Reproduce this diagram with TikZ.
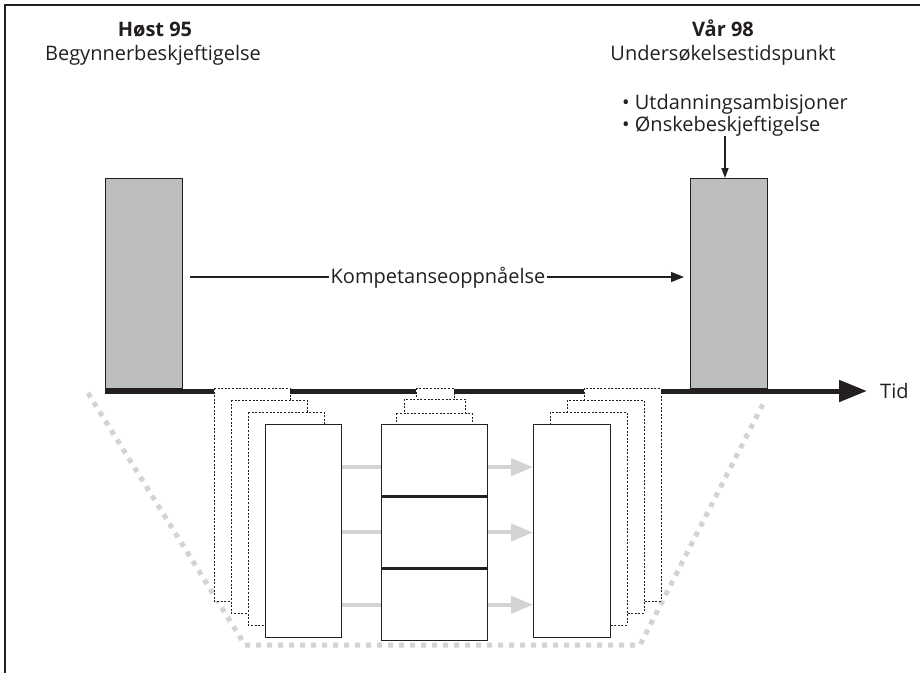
\documentclass[tikz,border=0pt]{standalone}
\usepackage{fontspec}
\setmainfont{Open Sans}
\usepackage{tikz}
\usetikzlibrary{arrows.meta}
\usetikzlibrary{positioning}
\usetikzlibrary{calc}

\definecolor{periodgray}{HTML}{BCBEC0}
\definecolor{flowgray}{HTML}{D1D3D4}
\definecolor{inkgray}{HTML}{231F20}

\begin{document}
\begin{tikzpicture}[x=1pt, y=-1pt,
  txt/.style={font=\fontsize{20}{22}\selectfont, text=inkgray, inner sep=0pt},
  boldtxt/.style={txt, font=\fontsize{20}{22}\selectfont\bfseries},
  period/.style={draw=inkgray, fill=periodgray, line width=1pt, minimum width=77pt, minimum height=210pt, inner sep=0pt, anchor=south west},
  job/.style={draw=inkgray, fill=white, line width=1.3pt, inner sep=0pt, anchor=north west},
  jobshadow/.style={draw=inkgray, fill=white, line width=0.9pt, dash pattern=on 2pt off 1.6pt},
  flow/.style={draw=flowgray, line width=4pt},
  flowarrow/.style={flow, -{Triangle[length=22pt, width=17pt]}},
  funnel/.style={draw=flowgray, line width=5pt, dash pattern=on 5pt off 6pt},
  kline/.style={draw=inkgray, line width=1.4pt}
]
\useasboundingbox (0,0) rectangle (920,673);
\draw[draw=inkgray, line width=2pt] (5,673) -- (5,5) -- (920,5); % ramme

% tekster
\node[boldtxt, anchor=base] (host95) at (155,36) {Høst 95};
\node[txt, anchor=base] (startjob) at (153,60) {Begynnerbeskjeftigelse};
\node[boldtxt, anchor=base] (vaar98) at (723,36) {Vår 98};
\node[txt, anchor=base] (surveytime) at (723,60) {Undersøkelsestidspunkt};
\node[txt, anchor=north west, align=left] (ambitions) at (622,94) {• Utdanningsambisjoner\\• Ønskebeskjeftigelse};

\draw[funnel] (88,393) -- (245,645) -- (640,645) -- (765,400); % trakt

% perioder
\node[period] (start) at (105,389) {};
\node[period] (survey) at (690,389) {};

\node[txt, anchor=west] (tid) at (880,391) {Tid};
\draw[draw=inkgray, line width=5pt, -{Triangle[length=28pt, width=21pt]}] ($(start.south west)+(0,2)$) -- ($(tid.west)+(-13,0)$); % tidsakse

\node[txt, anchor=base] (komp) at (438,283) {Kompetanseoppnåelse};
\draw[kline] ($(start.east |- komp.base)+(7,-6)$) -- ($(komp.base west)+(-1,-6)$);
\draw[kline, -{Triangle[length=13pt, width=10pt]}] ($(komp.base east)+(1,-6)$) -- ($(survey.west |- komp.base)+(-6,-6)$);

\draw[kline, -{Triangle[length=10pt, width=7pt]}] (ambitions.south -| {$(survey.north)+(-4,0)$}) -- ($(survey.north)+(-4,0)$);

% jobber
\foreach \k in {3,2,1}
  \draw[jobshadow] (265-17*\k, 424-12*\k) rectangle ++(76,213);
\node[job, minimum width=76pt, minimum height=213pt] (first) at (265,424) {};

\foreach \l/\r/\t in {416/454/388, 404/465/399, 396/472/413}
  \draw[jobshadow] (\l,\t) rectangle (\r,430);
\node[job, minimum width=106pt, minimum height=71pt] (mid1) at (381,424) {};
\node[job, minimum width=106pt, minimum height=71pt, below=0pt of mid1] (mid2) {};
\node[job, minimum width=106pt, minimum height=71pt, below=0pt of mid2] (mid3) {};

\foreach \k in {3,2,1}
  \draw[jobshadow] (533+17*\k, 424-12*\k) rectangle ++(77,213);
\node[job, minimum width=77pt, minimum height=213pt] (last) at (533,424) {};

\foreach \m/\dy in {mid1/7, mid2/0, mid3/0} {
  \draw[flow] ($(first.east |- \m.west)+(0,\dy)$) -- ($(\m.west)+(0,\dy)$);
  \draw[flowarrow] ($(\m.east)+(0,\dy)$) -- ($(last.west |- \m.east)+(0,\dy)$);
}
\end{tikzpicture}
\end{document}
